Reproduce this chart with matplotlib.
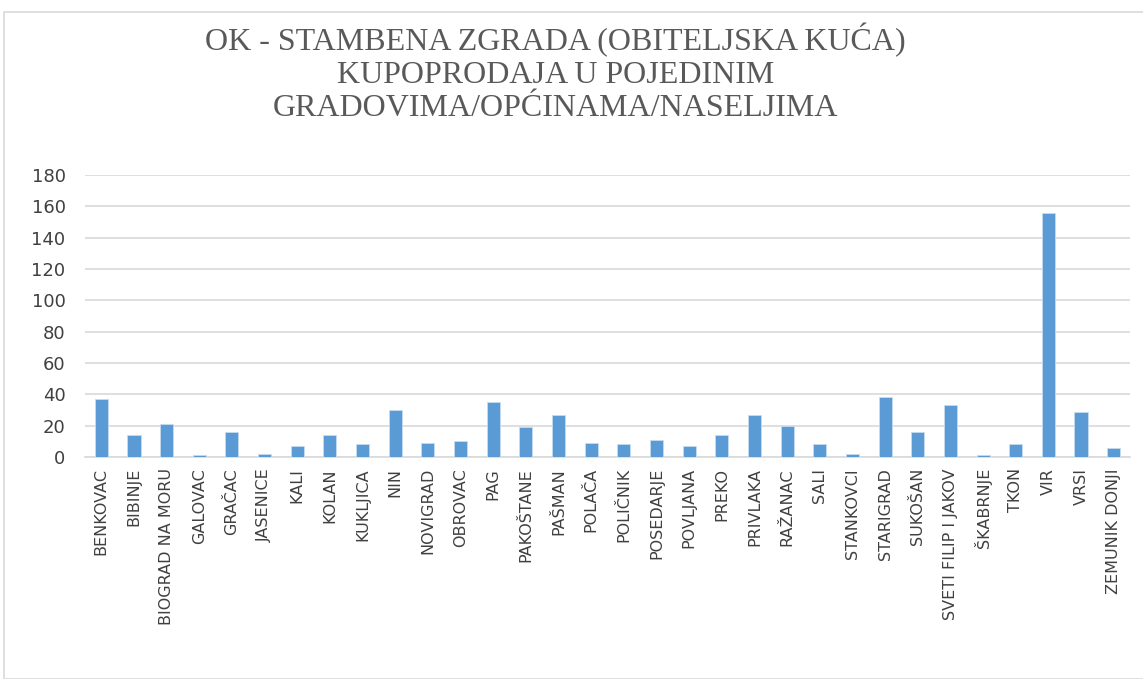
import matplotlib.pyplot as plt
import matplotlib.patches as patches
import numpy as np

# podaci s grafa
mjesta = ["BENKOVAC", "BIBINJE", "BIOGRAD NA MORU", "GALOVAC", "GRAČAC", "JASENICE",
          "KALI", "KOLAN", "KUKLJICA", "NIN", "NOVIGRAD", "OBROVAC", "PAG", "PAKOŠTANE",
          "PAŠMAN", "POLAČA", "POLIČNIK", "POSEDARJE", "POVLJANA", "PREKO", "PRIVLAKA",
          "RAŽANAC", "SALI", "STANKOVCI", "STARIGRAD", "SUKOŠAN", "SVETI FILIP I JAKOV",
          "ŠKABRNJE", "TKON", "VIR", "VRSI", "ZEMUNIK DONJI"]
broj = [37, 14, 21, 1, 16, 2, 7, 14, 8, 30, 9, 10, 35, 19, 27, 9, 8, 11, 7, 14, 27,
        20, 8, 2, 38, 16, 33, 1, 8, 156, 29, 6]
y_ticks = [0, 20, 40, 60, 80, 100, 120, 140, 160, 180]

naslov = "OK - STAMBENA ZGRADA (OBITELJSKA KUĆA)\nKUPOPRODAJA U POJEDINIM\nGRADOVIMA/OPĆINAMA/NASELJIMA"

W, H = 1143, 679
fig = plt.figure(figsize=(W / 100, H / 100), dpi=100)

# okvir grafa
fig.patches.append(patches.Rectangle((4 / W, 0), 1.0, 1 - 12 / H, transform=fig.transFigure,
                                     fill=False, edgecolor="#d9d9d9", linewidth=1.2))

ax = fig.add_axes([85 / W, 1 - 457 / H, 1045 / W, 282 / H])
x = np.arange(len(mjesta))
ax.bar(x, broj, width=0.4, color="#5b9bd5", edgecolor="#c6dcf0", linewidth=0.6, zorder=3)

ax.set_xlim(-0.5, len(mjesta) - 0.5)
ax.set_ylim(0, 180)
ax.set_yticks(y_ticks)
ax.set_xticks(x)
ax.set_xticklabels(mjesta, rotation=90, fontsize=11.5, color="#404040", family="DejaVu Sans")
ax.tick_params(axis="y", labelsize=13, colors="#404040", length=0, pad=14)
ax.tick_params(axis="x", length=0, pad=8)
ax.grid(axis="y", color="#d9d9d9", linewidth=1.2, zorder=0)
for s in ["top", "right", "left"]:
    ax.spines[s].set_visible(False)
ax.spines["bottom"].set_color("#d9d9d9")
ax.spines["bottom"].set_linewidth(1.2)

fig.text(0.486, 1 - 73 / H, naslov, ha="center", va="center", fontsize=23,
         family="Liberation Serif", color="#595959", linespacing=1.17)

fig.savefig("out.png", dpi=100)
